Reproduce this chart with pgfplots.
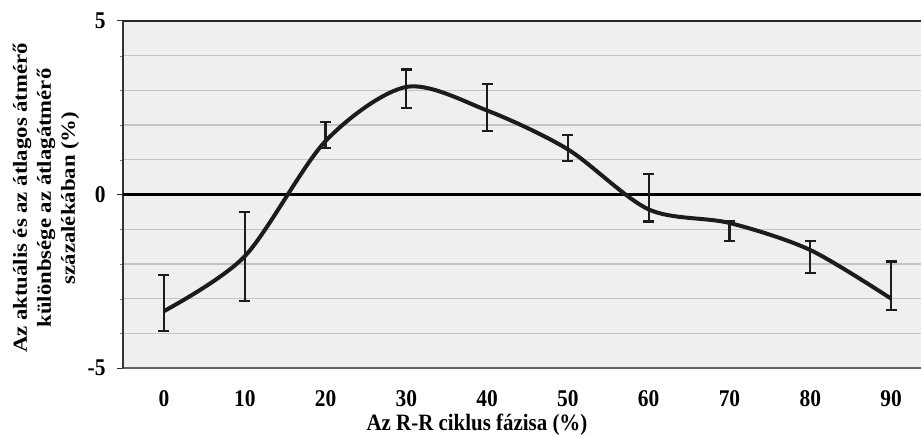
\documentclass[border=0pt]{standalone}
\usepackage{pgfplots}
\usepackage{pgfplotstable}
\pgfplotsset{compat=1.18}
\usepackage{fontspec}
\setmainfont{Liberation Serif}

\definecolor{plotbg}{HTML}{EFEFEF}
\definecolor{gridc}{HTML}{C4C4C4}
\definecolor{curve}{HTML}{1C1C1C}

% phase index, mean, error up, error down
\pgfplotstableread{
x y ep em
0 -3.36 1.04 0.58
1 -1.78 1.28 1.29
2 1.54 0.56 0.19
3 3.10 0.50 0.60
4 2.42 0.77 0.60
5 1.30 0.41 0.33
6 -0.43 1.03 0.35
7 -0.82 0.06 0.53
8 -1.60 0.25 0.66
9 -3.00 1.07 0.32
}\phasedata

\begin{document}
\begin{tikzpicture}
\path[use as bounding box] (0bp,0bp) rectangle (921bp,437bp);
\begin{axis}[
    at={(123bp,69bp)}, anchor=south west,
    scale only axis,
    width=798bp, height=347bp,
    xmin=-0.5075, xmax=9.371,
    ymin=-5, ymax=5,
    axis background/.style={fill=plotbg},
    axis line style={draw=none},
    xtick={0,...,9},
    xticklabels={0,10,20,30,40,50,60,70,80,90},
    xtick style={draw=none},
    ytick={-5,0,5},
    yticklabels={-5,0,5},
    minor ytick={-4,-3,-2,-1,1,2,3,4},
    yminorgrids,
    minor grid style={gridc, line width=1.3bp},
    ytick pos=left,
    tick align=outside,
    major tick length=6bp,
    major tick style={black!80, line width=1bp},
    ticklabel style={font=\bfseries\fontsize{21.5}{24}\selectfont, yscale=1.12},
    yticklabel style={xshift=-8bp},
    xticklabel style={yshift=-11bp},
    xlabel={Az R-R ciklus fázisa (\%)},
    xlabel style={font=\bfseries\fontsize{21}{24}\selectfont, yscale=1.12,
        at={(axis description cs:0.4436,-0.164)}, anchor=center},
    ylabel={Az aktuális és az átlagos átmérő\\[1bp]különbsége az átlagátmérő\\[1bp]százalékában (\%)},
    ylabel style={font=\bfseries\fontsize{20}{23}\selectfont, align=center,
        xscale=1.14,
        at={(axis description cs:-0.0965,0.49)}, anchor=center},
    clip=false,
]
% frame lines as in the original
\draw[gridc!50!black, line width=1.6bp] (axis cs:-0.5075,-5) -- (axis cs:9.371,-5);
\draw[black!85, line width=1.8bp] (axis cs:-0.5075,5) -- (axis cs:9.371,5);
\draw[black!80, line width=1.3bp] (axis cs:-0.5075,-5) -- (axis cs:-0.5075,5);
\draw[black, line width=2.2bp] (axis cs:-0.5075,0) -- (axis cs:9.371,0);

\addplot[curve, line width=4bp, smooth, tension=0.5, no marks,
    error bars/.cd, y dir=both, y explicit,
    error bar style={curve, line width=2.2bp},
    error mark options={rotate=90, mark size=5.5bp, line width=2.2bp, curve}]
    table[x=x, y=y, y error plus=ep, y error minus=em] {\phasedata};
\end{axis}
\end{tikzpicture}
\end{document}
